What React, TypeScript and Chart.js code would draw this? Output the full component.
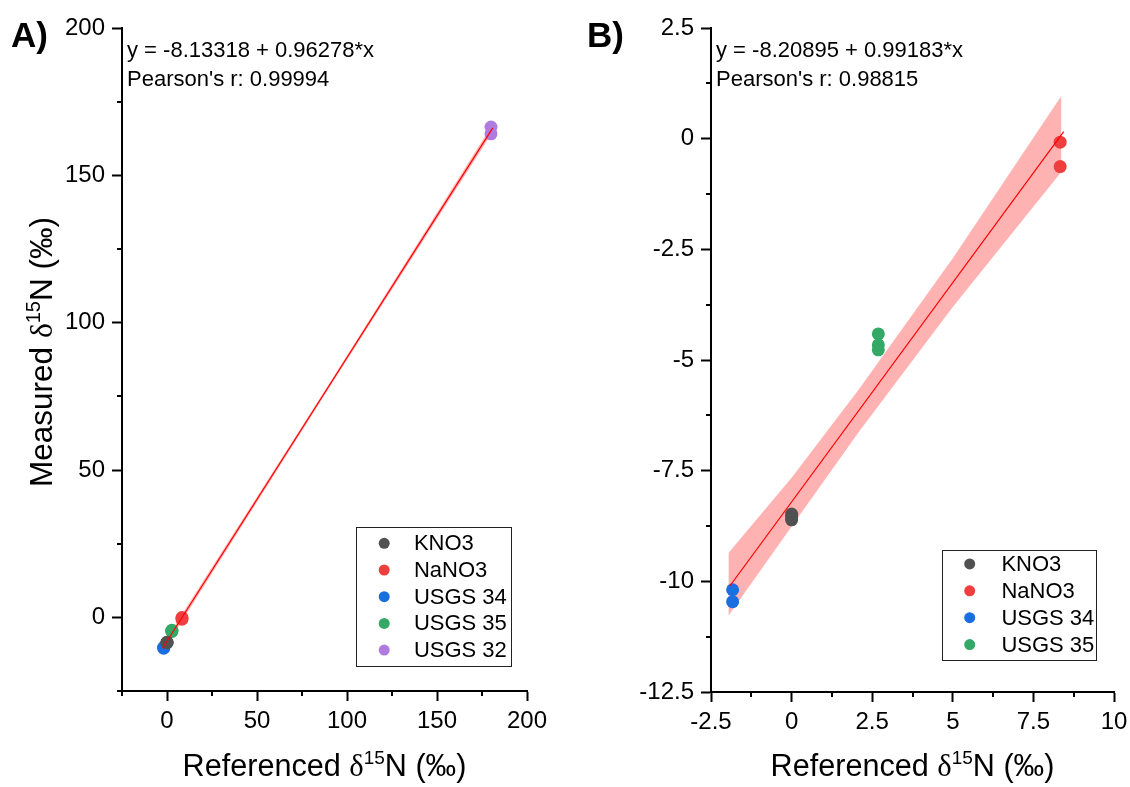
import { useEffect, useRef } from 'react';
import { Chart, registerables } from 'chart.js';

Chart.register(...registerables);

// ---------------- data ----------------
const seriesNames = ['KNO3', 'NaNO3', 'USGS 34', 'USGS 35', 'USGS 32'];
const seriesColors = ['#515151', '#ef3e3e', '#1a6fe0', '#34a865', '#b07bdf'];

const kno3X = [0, 0, 0];
const kno3Y = [-8.48, -8.55, -8.61];
const nano3X = [8.33, 8.33];
const nano3Y = [-0.08, -0.63];
const usgs34X = [-1.83, -1.83];
const usgs34Y = [-10.19, -10.46];
const usgs35X = [2.69, 2.69, 2.69];
const usgs35Y = [-4.41, -4.66, -4.77];
const usgs32X = [180, 180];
const usgs32Y = [164.1, 166.4];

const fitAX = [-2.5, 181];
const fitAY = [-10.5, 166.1];
const bandAX = [-2.5, 90, 181];
const bandAUpper = [-9.3, 79.2, 167.4];
const bandALower = [-11.7, 77.8, 164.8];

const fitBX = [-1.91, 8.44];
const fitBY = [-10.1, 0.16];
const bandBX = [-1.96, 0, 2.1, 5, 8.37];
const bandBUpper = [-9.36, -7.66, -5.65, -2.7, 0.97];
const bandBLower = [-10.78, -8.76, -6.61, -3.8, -0.75];

const xTicksA = [0, 50, 100, 150, 200];
const xMinorA = [-25, 25, 75, 125, 175];
const yTicksA = [0, 50, 100, 150, 200];
const yMinorA = [-25, 25, 75, 125, 175];
const xTicksB = [-2.5, 0, 2.5, 5, 7.5, 10];
const xMinorB = [-1.25, 1.25, 3.75, 6.25, 8.75];
const yTicksB = [-12.5, -10, -7.5, -5, -2.5, 0, 2.5];
const yMinorB = [-11.25, -8.75, -6.25, -3.75, -1.25, 1.25];

const fitTextA = ['y = -8.13318 + 0.96278*x', "Pearson's r: 0.99994"];
const fitTextB = ['y = -8.20895 + 0.99183*x', "Pearson's r: 0.98815"];

const xTitleParts = ['Referenced ', 'δ', '15', 'N (‰)'];
const yTitleParts = ['Measured ', 'δ', '15', 'N (‰)'];

// ---------------- helpers ----------------
const SANS = '"Liberation Sans", Arial, Helvetica, sans-serif';
const SERIF = '"Liberation Serif", "Times New Roman", serif';

const zip = (xs: number[], ys: number[]) => xs.map((x, i) => ({ x, y: ys[i] }));

function pointSet(name: string, color: string, xs: number[], ys: number[]) {
  return {
    label: name,
    data: zip(xs, ys),
    backgroundColor: color,
    borderColor: color,
    pointRadius: 6.5,
    pointBorderWidth: 0,
    showLine: false,
    order: 2,
  };
}

function drawTitle(ctx: CanvasRenderingContext2D, parts: string[], size: number) {
  const fonts = [
    `${size}px ${SANS}`,
    `${size}px ${SERIF}`,
    `${Math.round(size * 0.62)}px ${SANS}`,
    `${size}px ${SANS}`,
  ];
  const dys = [0, 0, -size * 0.38, 0];
  const widths = parts.map((p, i) => {
    ctx.font = fonts[i];
    return ctx.measureText(p).width;
  });
  const total = widths.reduce((a, b) => a + b, 0);
  let x = -total / 2;
  ctx.textAlign = 'left';
  ctx.textBaseline = 'alphabetic';
  parts.forEach((p, i) => {
    ctx.font = fonts[i];
    ctx.fillText(p, x, dys[i]);
    x += widths[i];
  });
}

const decorPlugin = {
  id: 'decor',
  afterDraw(chart: any, _args: any, opts: any) {
    const ctx: CanvasRenderingContext2D = chart.ctx;
    const ca = chart.chartArea;
    const xs = chart.scales.x;
    const ys = chart.scales.y;
    ctx.save();
    ctx.fillStyle = '#000';
    ctx.strokeStyle = '#000';

    // minor ticks
    ctx.lineWidth = 2;
    (opts.xMinor as number[]).forEach((v) => {
      const px = Math.round(xs.getPixelForValue(v));
      ctx.beginPath();
      ctx.moveTo(px, ca.bottom);
      ctx.lineTo(px, ca.bottom + 5);
      ctx.stroke();
    });
    (opts.yMinor as number[]).forEach((v) => {
      const py = Math.round(ys.getPixelForValue(v));
      ctx.beginPath();
      ctx.moveTo(ca.left, py);
      ctx.lineTo(ca.left - 5, py);
      ctx.stroke();
    });

    // panel label
    ctx.font = `bold 35px ${SANS}`;
    ctx.textAlign = 'left';
    ctx.textBaseline = 'alphabetic';
    ctx.fillText(opts.panel, opts.panelX, 47);

    // fit annotation
    ctx.font = `22px ${SANS}`;
    (opts.fitText as string[]).forEach((t, i) => {
      ctx.fillText(t, ca.left + 5, 57 + i * 29);
    });

    // axis titles
    ctx.save();
    ctx.translate((ca.left + ca.right) / 2, 776);
    drawTitle(ctx, xTitleParts, 30.6);
    ctx.restore();
    if (opts.yTitle) {
      ctx.save();
      ctx.translate(52, 352);
      ctx.rotate(-Math.PI / 2);
      drawTitle(ctx, yTitleParts, 31.5);
      ctx.restore();
    }

    // legend
    const lg = opts.legend;
    const left = ca.right - lg.right - lg.w;
    const top = ca.bottom - lg.bottom - lg.h;
    ctx.lineWidth = 1;
    ctx.strokeStyle = '#222';
    ctx.strokeRect(Math.round(left) + 0.5, Math.round(top) + 0.5, Math.round(lg.w), Math.round(lg.h));
    ctx.font = `22px ${SANS}`;
    ctx.textBaseline = 'middle';
    for (let i = 0; i < lg.count; i++) {
      const cy = top + lg.rowTop + i * lg.rowGap;
      ctx.fillStyle = seriesColors[i];
      ctx.beginPath();
      ctx.arc(left + lg.markerDx, cy, 5.5, 0, Math.PI * 2);
      ctx.fill();
      ctx.fillStyle = '#000';
      ctx.fillText(seriesNames[i], left + lg.textDx, cy + 1);
    }
    ctx.restore();
  },
};

function axis(min: number, max: number, ticks: number[], fitSize: number, horizontal: boolean) {
  return {
    type: 'linear',
    min,
    max,
    afterBuildTicks: (scale: any) => {
      scale.ticks = ticks.map((v) => ({ value: v }));
    },
    afterFit: (scale: any) => {
      if (horizontal) scale.height = fitSize;
      else scale.width = fitSize;
      scale.paddingLeft = 0;
      scale.paddingRight = 0;
      scale.paddingTop = 0;
      scale.paddingBottom = 0;
    },
    border: { display: true, color: '#000', width: 2 },
    grid: {
      display: true,
      drawOnChartArea: false,
      drawTicks: true,
      tickLength: 10,
      tickWidth: 2,
      tickColor: '#000',
    },
    ticks: {
      color: '#000',
      font: { family: SANS, size: 24 },
      padding: horizontal ? 6 : 7,
      maxRotation: 0,
      autoSkip: false,
      callback: (v: any) => String(v),
    },
  };
}

function makeConfig(panel: 'A' | 'B') {
  const isA = panel === 'A';
  const datasets: any[] = [];
  const bx = isA ? bandAX : bandBX;
  datasets.push({
    label: 'band upper',
    data: zip(bx, isA ? bandAUpper : bandBUpper),
    showLine: true,
    pointRadius: 0,
    borderWidth: 0,
    borderColor: 'rgba(0,0,0,0)',
    backgroundColor: 'rgba(255,0,0,0.3)',
    fill: '+1',
    order: 3,
  });
  datasets.push({
    label: 'band lower',
    data: zip(bx, isA ? bandALower : bandBLower),
    showLine: true,
    pointRadius: 0,
    borderWidth: 0,
    borderColor: 'rgba(0,0,0,0)',
    fill: false,
    order: 3,
  });
  datasets.push(pointSet(seriesNames[0], seriesColors[0], kno3X, kno3Y));
  datasets.push(pointSet(seriesNames[1], seriesColors[1], nano3X, nano3Y));
  datasets.push(pointSet(seriesNames[2], seriesColors[2], usgs34X, usgs34Y));
  datasets.push(pointSet(seriesNames[3], seriesColors[3], usgs35X, usgs35Y));
  if (isA) datasets.push(pointSet(seriesNames[4], seriesColors[4], usgs32X, usgs32Y));
  datasets.push({
    label: 'fit',
    data: zip(isA ? fitAX : fitBX, isA ? fitAY : fitBY),
    showLine: true,
    pointRadius: 0,
    borderWidth: 1.2,
    borderColor: '#ff0000',
    fill: false,
    order: 1,
  });

  return {
    type: 'scatter',
    data: { datasets },
    plugins: [decorPlugin],
    options: {
      responsive: false,
      animation: false,
      events: [],
      layout: {
        padding: isA
          ? { left: 0, top: 28, right: 38, bottom: 0 }
          : { left: 0, top: 28, right: 16, bottom: 0 },
      },
      scales: isA
        ? {
            x: axis(-25, 200, xTicksA, 96, true),
            y: axis(-25, 200, yTicksA, 122, false),
          }
        : {
            x: axis(-2.5, 10, xTicksB, 95, true),
            y: axis(-12.5, 2.5, yTicksB, 146, false),
          },
      plugins: {
        legend: { display: false },
        tooltip: { enabled: false },
        decor: isA
          ? {
              panel: 'A)',
              panelX: 11,
              fitText: fitTextA,
              yTitle: true,
              xMinor: xMinorA,
              yMinor: yMinorA,
              legend: { count: 5, right: 16.4, bottom: 25.3, w: 155, h: 139, rowTop: 16.6, rowGap: 26.7, markerDx: 28.6, textDx: 58.3 },
            }
          : {
              panel: 'B)',
              panelX: 22,
              fitText: fitTextB,
              yTitle: false,
              xMinor: xMinorB,
              yMinor: yMinorB,
              legend: { count: 4, right: 17.6, bottom: 32.4, w: 154, h: 110, rowTop: 14.3, rowGap: 26.9, markerDx: 27.3, textDx: 59 },
            },
      },
    },
  };
}

function Panel({ panel, left }: { panel: 'A' | 'B'; left: number }) {
  const ref = useRef<HTMLCanvasElement | null>(null);
  useEffect(() => {
    if (!ref.current) return;
    const chart = new Chart(ref.current, makeConfig(panel) as any);
    return () => chart.destroy();
  }, [panel]);
  return (
    <canvas
      ref={ref}
      width={565}
      height={787}
      style={{ position: 'absolute', left, top: 0, width: 565, height: 787 }}
    />
  );
}

export default function App() {
  return (
    <div style={{ position: 'absolute', left: 0, top: 0, width: 1130, height: 787, background: '#fff' }}>
      <Panel panel="A" left={0} />
      <Panel panel="B" left={565} />
    </div>
  );
}
